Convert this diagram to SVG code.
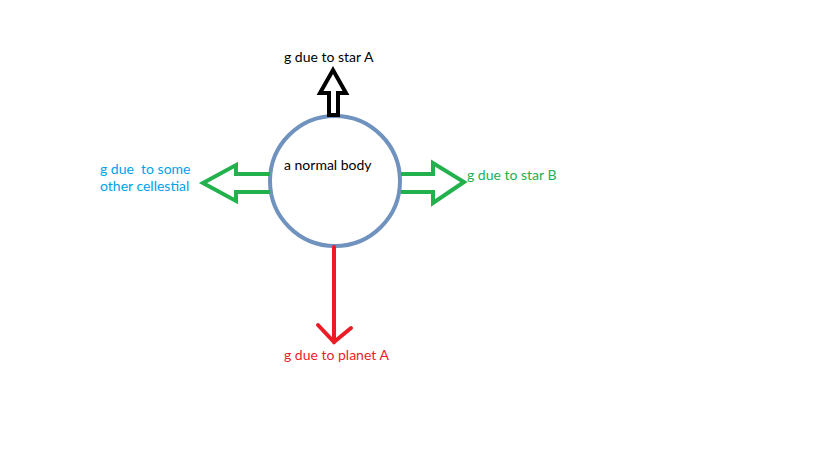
<svg xmlns="http://www.w3.org/2000/svg" width="819" height="460" viewBox="0 0 819 460">
<style>
text{font-family:Lato,"Open Sans","Liberation Sans",sans-serif;font-size:14px}
.blk{fill:#000}.grn{fill:#22b14c}.blu{fill:#00a2e8}.red{fill:#ed1c24}
.garrow{fill:none;stroke:#22b14c;stroke-width:4;stroke-linejoin:miter}
</style>
<rect width="819" height="460" fill="#fff"/>
<g id="body">
<circle cx="335" cy="181" r="65" fill="none" stroke="#7092be" stroke-width="4"/>
<text x="284" y="170" class="blk">a normal body</text>
</g>
<g id="connectors">
<path d="M329,115 V93 H320 L333,70 L346,93 H338 V115 Z" fill="none" stroke="#000" stroke-width="4" stroke-linejoin="miter"/>
<path class="garrow" d="M270,174 H236 V165 L203,183 L236,201 V192 H270"/>
<path class="garrow" d="M401,174 H433 V163 L464,182 L433,203 V192 H401"/>
<g stroke="#ed1c24" stroke-width="4" fill="none" stroke-linecap="round">
<path d="M334,247 V342"/>
<path d="M318,325 L334,342 L351,328"/>
</g>
</g>
<g id="label-star-a"><text x="284" y="62" class="blk">g due to star A</text></g>
<g id="label-star-b"><text x="467" y="180" class="grn">g due to star B</text></g>
<g id="label-other"><text x="100" y="174" class="blu" xml:space="preserve">g due  to some</text><text x="100" y="191" class="blu">other cellestial</text></g>
<g id="label-planet"><text x="284" y="360" class="red">g due to planet A</text></g>
</svg>
